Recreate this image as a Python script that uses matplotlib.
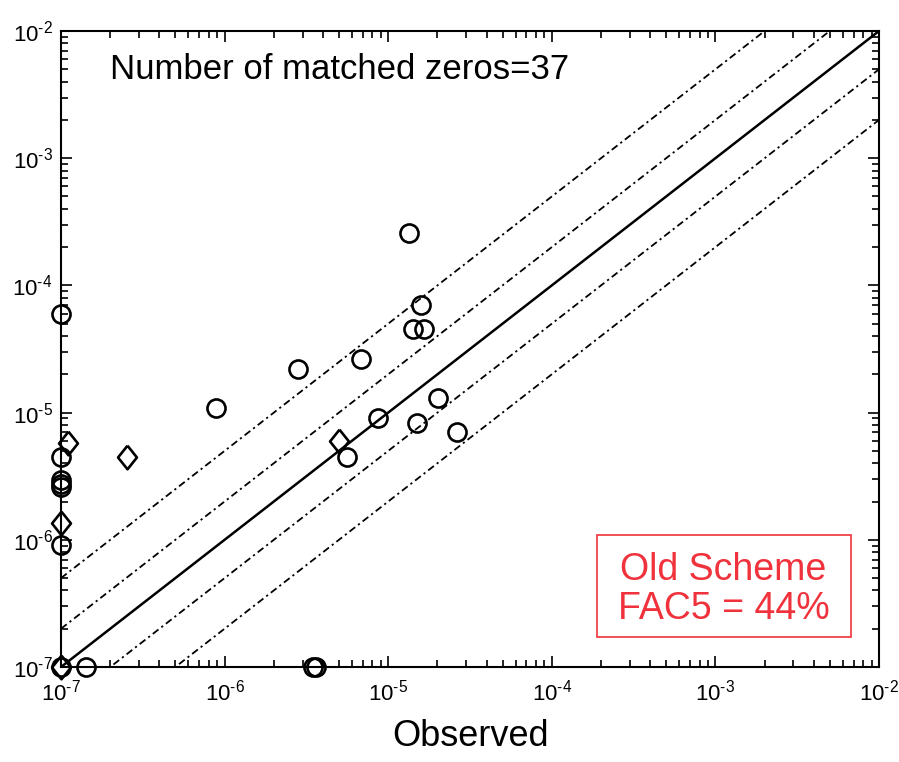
import matplotlib.pyplot as plt
import numpy as np
from matplotlib.patches import Rectangle
from matplotlib.ticker import LogLocator, FuncFormatter, NullFormatter

plt.rcParams['font.family'] = ['Liberation Sans', 'DejaVu Sans']
plt.rcParams['mathtext.fontset'] = 'custom'
plt.rcParams['mathtext.rm'] = 'Liberation Sans'
plt.rcParams['mathtext.it'] = 'Liberation Sans'

# observed vs predicted, circles
obs_c = [1.34e-5, 1.59e-5, 1.42e-5, 1.66e-5, 1e-7, 2.81e-6, 6.83e-6, 8.85e-7,
         8.67e-6, 2.01e-5, 1.50e-5, 2.64e-5, 5.6e-6,
         1e-7, 1e-7, 1e-7, 1e-7, 1e-7, 1e-7, 1.42e-7, 3.47e-6, 3.6e-6]
pred_c = [2.58e-4, 7.0e-5, 4.54e-5, 4.54e-5, 5.96e-5, 2.2e-5, 2.64e-5, 1.09e-5,
          9.08e-6, 1.30e-5, 8.3e-6, 7.0e-6, 4.48e-6,
          4.48e-6, 2.95e-6, 2.75e-6, 2.6e-6, 9.1e-7, 1e-7, 1e-7, 1e-7, 1e-7]

# diamonds
obs_d = [5.0e-6, 1.1e-7, 1e-7, 2.53e-7, 1e-7]
pred_d = [5.98e-6, 5.77e-6, 1.36e-6, 4.48e-6, 1e-7]

factors = [5, 2, 0.5, 0.2]
n_zeros = 37
fac5 = 44
red = '#f0323c'

fig = plt.figure(figsize=(8.99, 7.62), dpi=100)
ax = fig.add_axes([61 / 899, 95 / 762, 818 / 899, 636 / 762])
ax.set_xscale('log')
ax.set_yscale('log')
ax.set_xlim(1e-7, 1e-2)
ax.set_ylim(1e-7, 1e-2)

xx = np.array([1e-7, 1e-2])
ax.plot(xx, xx, color='black', lw=1.8)
for f in factors:
    ax.plot(xx, xx * f, color='black', lw=1.3, linestyle='-.', dashes=(4, 2, 1.2, 2))

ax.plot(obs_c, pred_c, linestyle='none', marker='o', ms=13, mfc='none',
        mec='black', mew=1.9, clip_on=False)
diamond = [(0, 1), (0.8, 0), (0, -1), (-0.8, 0), (0, 1)]
ax.plot(obs_d, pred_d, linestyle='none', marker=diamond, ms=17, mfc='none',
        mec='black', mew=1.9, clip_on=False)

# short hyphen in the exponent instead of a full minus sign
fmt = FuncFormatter(lambda v, p: '$10^{\\mathrm{\u2010%d}}$' % abs(round(np.log10(v))))
for axis in (ax.xaxis, ax.yaxis):
    axis.set_major_locator(LogLocator(base=10, numticks=10))
    axis.set_minor_locator(LogLocator(base=10, subs=np.arange(2, 10), numticks=10))
    axis.set_major_formatter(fmt)
    axis.set_minor_formatter(NullFormatter())
ax.tick_params(which='both', direction='in', top=True, right=True, width=1.2,
               labelsize=16, color='black')
ax.tick_params(which='major', length=8)
ax.tick_params(axis='x', which='major', pad=9)
ax.tick_params(axis='y', which='major', pad=6)
ax.tick_params(which='minor', length=5)
for s in ax.spines.values():
    s.set_linewidth(1.5)

ax.set_xlabel('Observed', fontsize=26, labelpad=10)
ax.text(0.06, 0.94, 'Number of matched zeros=%d' % n_zeros, transform=ax.transAxes,
        fontsize=25, va='center', ha='left')

ax.add_patch(Rectangle((0.655, 0.047), 0.311, 0.1605, transform=ax.transAxes,
                       fc='white', ec=red, lw=1.2, zorder=5))
ax.text(0.81, 0.122, 'Old Scheme\nFAC5 = %d%%' % fac5, transform=ax.transAxes,
        fontsize=27, color=red, ha='center', va='center', linespacing=1.08, zorder=6)

fig.savefig('out.png', dpi=100)
